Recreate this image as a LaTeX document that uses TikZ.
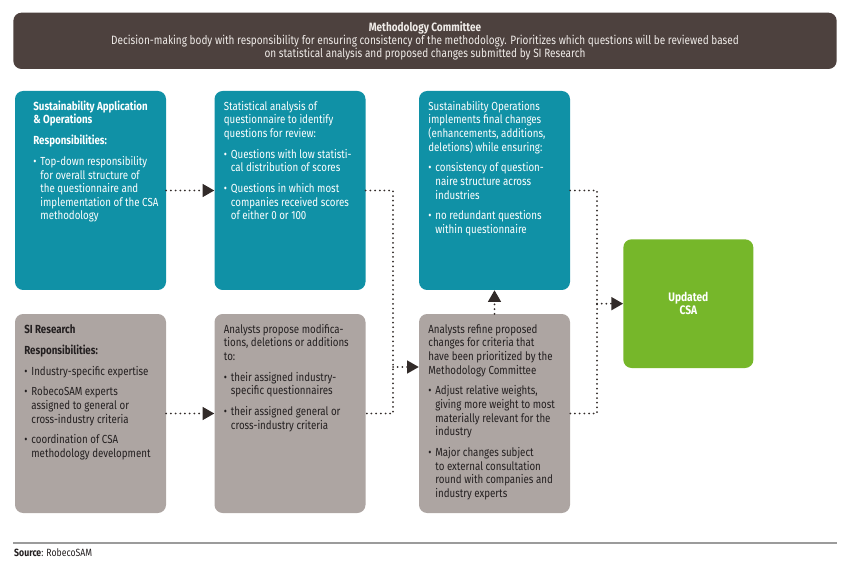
\documentclass[tikz,border=0pt]{standalone}
\usepackage{fontspec}
\setmainfont{Fira Sans}[FakeStretch=0.83]
\usepackage{tikz}
\usetikzlibrary{arrows.meta, positioning}

\definecolor{boxteal}{RGB}{16,145,166}
\definecolor{boxgrey}{RGB}{173,165,162}
\definecolor{csagreen}{RGB}{118,183,42}
\definecolor{headbrown}{RGB}{77,65,62}
\definecolor{headink}{RGB}{240,236,233}
\definecolor{boxink}{RGB}{35,31,32}
\definecolor{linkink}{RGB}{50,43,41}
\definecolor{rulegrey}{RGB}{155,155,155}

% box content: optional left indent, text set ragged right, long lines may run into the margin
\newcommand{\boxtext}[2][0pt]{\hspace*{#1}\makebox[\dimexpr4.53cm-16pt-#1\relax][l]{%
    \parbox[t]{\dimexpr4.53cm-8pt-#1\relax}{\raggedright #2}}}
\newcommand{\bul}{\par\vspace{6.2pt}\noindent\makebox[6pt][l]{\textbullet}}
\newcommand{\ind}{\hspace*{6pt}}
\newcommand{\blockgap}{\par\vspace{6.2pt}}

\begin{document}
\begin{tikzpicture}[node distance=5.985cm,
    every node/.style={font=\fontsize{10}{11.6}\selectfont},
    box/.style={rounded corners=7pt, inner sep=8pt, minimum width=4.53cm,
        text height=8.5pt, text depth=5.97cm-24.5pt},
    tealbox/.style={box, fill=boxteal, text=white},
    greybox/.style={box, fill=boxgrey, text=boxink},
    dots/.style={draw=linkink, line width=1.7pt, line cap=round, dash pattern=on 0pt off 4pt},
    link/.style={dots, -{Triangle[length=10pt, width=11pt]}}]
        \useasboundingbox (0,0) rectangle (25.5,-17.13);

        \node (mc) [fill=headbrown, text=headink, rounded corners=7pt, minimum width=24.7cm,
            minimum height=1.69cm, align=center, font=\fontsize{10.3}{11.4}\selectfont] at (12.75,-1.225)
            {\textbf{Methodology Committee}\\ Decision-making body with responsibility for ensuring consistency of the methodology. Prioritizes which questions will be reviewed based\\ on statistical analysis and proposed changes submitted by SI Research};

        \node (sao)    [tealbox] at (2.715,-5.715)
            {\boxtext[7.7pt]{\textbf{Sustainability Application}\\ \textbf{\& Operations}\blockgap
             \textbf{Responsibilities:}
             \bul Top-down responsibility\\ \ind for overall structure of\\ \ind the questionnaire and\\ \ind implementation of the CSA\\ \ind methodology}};
        \node (stat)   [tealbox, right of=sao]
            {\boxtext{Statistical analysis of\\ questionnaire to identify\\ questions for review:
             \bul Questions with low statisti-\\ \ind cal distribution of scores
             \bul Questions in which most\\ \ind companies received scores\\ \ind of either 0 or 100}};
        \node (ops)    [tealbox, right of=stat, xshift=0.15cm]
            {\boxtext{Sustainability Operations\\ implements final changes\\ (enhancements, additions,\\ deletions) while ensuring:
             \bul consistency of question-\\ \ind naire structure across\\ \ind industries
             \bul no redundant questions\\ \ind within questionnaire}};
        \node (sir)    [greybox, node distance=6.69cm, below of=sao]
            {\boxtext{\textbf{SI Research}\blockgap
             \textbf{Responsibilities:}
             \bul Industry-specific expertise
             \bul RobecoSAM experts\\ \ind assigned to general or\\ \ind cross-industry criteria
             \bul coordination of CSA\\ \ind methodology development}};
        \node (prop)   [greybox, node distance=6.69cm, below of=stat]
            {\boxtext{Analysts propose modifica-\\ tions, deletions or additions\\ to:
             \bul their assigned industry-\\ \ind specific questionnaires
             \bul their assigned general or\\ \ind cross-industry criteria}};
        \node (refine) [greybox, node distance=6.69cm, below of=ops]
            {\boxtext{Analysts refine proposed\\ changes for criteria that\\ have been prioritized by the\\ Methodology Committee
             \bul Adjust relative weights,\\ \ind giving more weight to most\\ \ind materially relevant for the\\ \ind industry
             \bul Major changes subject\\ \ind to external consultation\\ \ind round with companies and\\ \ind industry experts}};
        \node (csa)    [fill=csagreen, text=white, rounded corners=7pt, minimum width=3.9cm, minimum height=3.86cm,
            align=center, font=\fontsize{10.5}{11.4}\selectfont\bfseries] at (20.65,-9.11) {Updated\\CSA};

        \coordinate (join1) at (11.79,-11.01);
        \coordinate (join2) at (17.91,-9.11);

        \draw[link] (sao) -- (stat);
        \draw[link] (sir) -- (prop);
        \draw[dots] (stat.east) -| (join1) |- (prop.east);
        \draw[link] (join1) -- (join1 -| refine.west);
        \draw[link] (refine) -- (ops);
        \draw[dots] (ops.east) -| (join2) |- (refine.east);
        \draw[link] (join2) -- (csa);

        % source
        \draw[rulegrey, line width=1.2pt] (0.4,-16.29) -- (25.1,-16.29);
        \node (src) [anchor=base west, inner sep=0pt, text=boxink, font=\fontsize{8.95}{10}\selectfont] at (0.42,-16.68)
            {\textbf{Source}: RobecoSAM};
    \end{tikzpicture}
\end{document}
